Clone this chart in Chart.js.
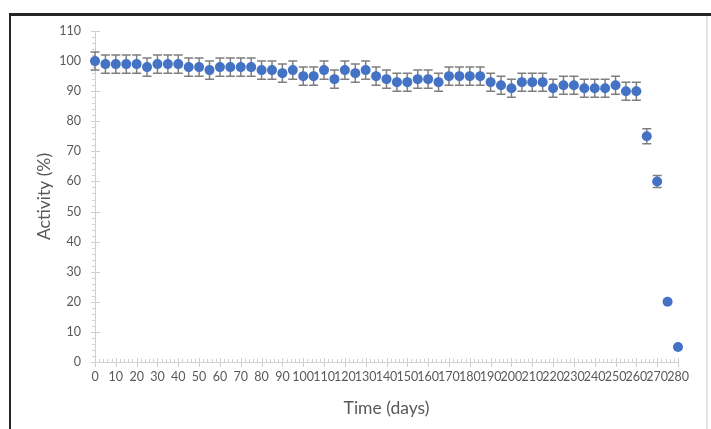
<!DOCTYPE html>
<html>
<head>
<meta charset="utf-8">
<script src="https://cdn.jsdelivr.net/npm/chart.js@4"></script>
<style>
  html, body { margin: 0; padding: 0; background: #fff; overflow: hidden; }
  #wrap { position: relative; width: 711px; height: 429px; }
  canvas { position: absolute; left: 0; top: 0; }
  .line { position: absolute; pointer-events: none; }
</style>
</head>
<body>
<div id="wrap">
  <canvas id="chart" width="711" height="429"></canvas>
  <div class="line" style="left:9px; top:13px; right:0; height:3px; background:#262626"></div>
  <div class="line" style="left:9px; top:13px; width:2px; bottom:0; background:#262626"></div>
  <div class="line" style="left:706px; top:16px; width:2px; bottom:0; background:#e4e4e4"></div>
</div>
<script>
// time points (days)
const days = [0, 5, 10, 15, 20, 25, 30, 35, 40, 45, 50, 55, 60, 65, 70, 75, 80, 85, 90, 95,
  100, 105, 110, 115, 120, 125, 130, 135, 140, 145, 150, 155, 160, 165, 170, 175, 180, 185, 190, 195,
  200, 205, 210, 215, 220, 225, 230, 235, 240, 245, 250, 255, 260, 265, 270, 275, 280];
// activity (%)
const activity = [100, 99, 99, 99, 99, 98, 99, 99, 99, 98, 98, 97, 98, 98, 98, 98, 97, 97, 96, 97,
  95, 95, 97, 94, 97, 96, 97, 95, 94, 93, 93, 94, 94, 93, 95, 95, 95, 95, 93, 92,
  91, 93, 93, 93, 91, 92, 92, 91, 91, 91, 92, 90, 90, 75, 60, 20, 5];
// error (+/-)
const errors = [3, 3, 3, 3, 3, 3, 3, 3, 3, 3, 3, 3, 3, 3, 3, 3, 3, 3, 3, 3,
  3, 3, 3, 3, 3, 3, 3, 3, 3, 3, 3, 3, 3, 3, 3, 3, 3, 3, 3, 3,
  3, 3, 3, 3, 3, 3, 3, 3, 3, 3, 3, 3, 3, 2.5, 2, 0, 0];

const xTicks = [];
for (let d = 0; d <= 280; d += 10) xTicks.push(d);

const points = days.map((d, i) => ({ x: d, y: activity[i] }));

const FONT = 'Lato, "Liberation Sans", sans-serif';
const TEXT = '#595959';
const AXIS = '#d0d0d0';

// error bars behind markers
const errorBars = {
  id: 'errorBars',
  beforeDatasetsDraw(chart) {
    const { ctx, scales: { x, y } } = chart;
    ctx.save();
    ctx.strokeStyle = '#7f7f7f';
    ctx.lineWidth = 1.5;
    days.forEach((d, i) => {
      const e = errors[i];
      if (!e) return;
      const px = x.getPixelForValue(d);
      const top = y.getPixelForValue(activity[i] + e);
      const bot = y.getPixelForValue(activity[i] - e);
      ctx.beginPath();
      ctx.moveTo(px, top); ctx.lineTo(px, bot);
      ctx.moveTo(px - 4.5, top); ctx.lineTo(px + 4.5, top);
      ctx.moveTo(px - 4.5, bot); ctx.lineTo(px + 4.5, bot);
      ctx.stroke();
    });
    ctx.restore();
  }
};

// axis lines with major and minor tick marks
const axisTicks = {
  id: 'axisTicks',
  beforeDatasetsDraw(chart) {
    const { ctx, chartArea: a, scales: { x, y } } = chart;
    ctx.save();
    ctx.strokeStyle = AXIS;
    ctx.lineWidth = 1;
    ctx.beginPath();
    ctx.moveTo(a.left + 0.5, a.top); ctx.lineTo(a.left + 0.5, a.bottom + 0.5);
    ctx.lineTo(a.right, a.bottom + 0.5);
    for (let v = 0; v <= 110; v += 2) {
      const py = Math.round(y.getPixelForValue(v)) + 0.5;
      if (v % 10 === 0) { ctx.moveTo(a.left - 4, py); ctx.lineTo(a.left + 5, py); }
      else { ctx.moveTo(a.left - 3, py); ctx.lineTo(a.left, py); }
    }
    for (let d = 0; d <= 280; d += 2) {
      const px = Math.round(x.getPixelForValue(d)) + 0.5;
      if (d % 10 === 0) { ctx.moveTo(px, a.bottom - 4); ctx.lineTo(px, a.bottom + 5); }
      else { ctx.moveTo(px, a.bottom - 3); ctx.lineTo(px, a.bottom); }
    }
    ctx.stroke();
    ctx.restore();
  }
};

new Chart(document.getElementById('chart'), {
  type: 'scatter',
  data: {
    datasets: [{
      label: 'Activity',
      data: points,
      backgroundColor: '#4472c4',
      borderColor: '#4472c4',
      pointRadius: 5,
      pointBorderWidth: 0,
      clip: false
    }]
  },
  options: {
    responsive: false,
    animation: false,
    layout: { padding: { left: 0, top: 31, right: 33, bottom: 0 } },
    plugins: { legend: { display: false }, tooltip: { enabled: false } },
    scales: {
      x: {
        type: 'linear',
        min: 0, max: 280,
        afterFit(s) { s.height = 67; },
        afterBuildTicks(s) { s.ticks = xTicks.map(v => ({ value: v })); },
        grid: { display: false, drawTicks: false },
        border: { display: false },
        ticks: {
          autoSkip: false, maxRotation: 0, minRotation: 0, padding: 7,
          color: TEXT, font: { family: FONT, size: 12.5 }
        },
        title: {
          display: true, text: 'Time (days)', color: TEXT,
          font: { family: FONT, size: 17.5 }, padding: { top: 10.5, bottom: 10.5 }
        }
      },
      y: {
        min: 0, max: 110,
        afterFit(s) { s.width = 95; },
        grid: { display: false, drawTicks: false },
        border: { display: false },
        ticks: { stepSize: 10, padding: 14, color: TEXT, font: { family: FONT, size: 12.5 } },
        title: {
          display: true, text: 'Activity (%)', color: TEXT,
          font: { family: FONT, size: 17.5 }, padding: { top: 33.5, bottom: 33.5 }
        }
      }
    }
  },
  plugins: [axisTicks, errorBars]
});
</script>
</body>
</html>
